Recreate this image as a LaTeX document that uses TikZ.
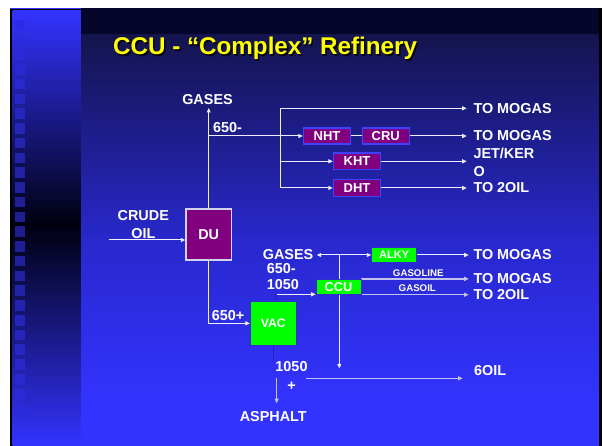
\documentclass[tikz,border=0pt]{standalone}
\usepackage{fontspec}
\setmainfont{Liberation Sans}
\usetikzlibrary{arrows.meta,calc}
\definecolor{slideblue}{RGB}{51,51,255}
\definecolor{topdark}{RGB}{6,6,42}
\definecolor{navy}{RGB}{20,20,78}
\definecolor{midblue}{RGB}{40,40,205}
\definecolor{stripdark}{RGB}{0,0,16}
\definecolor{boxpurple}{RGB}{128,0,128}
\definecolor{boxgreen}{RGB}{0,255,0}
\definecolor{boxedge}{RGB}{64,64,255}
\definecolor{greenedge}{RGB}{48,48,200}
\definecolor{duedge}{RGB}{210,210,235}
\definecolor{flow}{RGB}{238,238,255}
\definecolor{flowgray}{RGB}{195,195,240}
\definecolor{titleyellow}{RGB}{255,255,0}
\definecolor{sqtop}{RGB}{44,44,232}
\definecolor{sqmid}{RGB}{30,30,140}
\definecolor{faint}{RGB}{34,34,190}
\pgfdeclarelayer{bgl}
\pgfdeclarelayer{linel}
\pgfsetlayers{bgl,linel,main}
\begin{document}
\begin{tikzpicture}[x=1pt,y=-1pt,
 lbl/.style={text=white,font=\fontsize{14.4}{17.3}\selectfont\bfseries,inner sep=0pt},
 unit/.style={draw, inner sep=0pt, text=white, font=\fontsize{13}{15}\selectfont\bfseries},
 purplebox/.style={unit, line width=1.3pt, fill=boxpurple, draw=boxedge, minimum width=47pt, minimum height=16pt},
 greenbox/.style={unit, line width=0.8pt, fill=boxgreen, draw=greenedge},
 flowline/.style={draw=flow, line width=1pt},
 grayline/.style={draw=flowgray, line width=1.3pt},
 faintline/.style={draw=faint, line width=0.8pt},
 arr/.style={flowline, -{Triangle[length=4.5pt,width=4pt]}},
 small/.style={text=white, font=\fontsize{9.7}{11}\selectfont\bfseries, inner sep=0pt},
 titlefont/.style={font=\fontsize{24.2}{28}\selectfont\bfseries, inner sep=0pt, anchor=base west}
]
\useasboundingbox (0,0) rectangle (602,446);

% ---------- nodes ----------
\node[titlefont, text=black, opacity=0.8] (titleshadow) at (114.5,56.5) {CCU - “Complex” Refinery};
\node[titlefont, text=titleyellow] (title) at (113,55) {CCU - “Complex” Refinery};

\node[purplebox] (nht) at (327,136) {NHT};
\node[purplebox] (cru) at (385.8,136) {CRU};
\node[purplebox, minimum height=16.7pt] (kht) at (357,161.3) {KHT};
\node[purplebox, minimum height=16.7pt] (dht) at (357,188) {DHT};
\node[unit, line width=1.2pt, fill=boxpurple, draw=duedge, minimum width=45.5pt, minimum height=51pt,
      font=\fontsize{14.4}{17}\selectfont\bfseries] (du) at (208.7,234.5) {DU};
\node[greenbox, minimum width=45pt, minimum height=14.6pt, font=\fontsize{11}{13}\selectfont\bfseries] (alky) at (394.2,255) {ALKY};
\node[greenbox, minimum width=45pt, minimum height=15pt, font=\fontsize{12.8}{15}\selectfont\bfseries] (ccu) at (338.5,286.8) {CCU};
\node[greenbox, minimum width=46pt, minimum height=43.3pt, font=\fontsize{12.3}{15}\selectfont\bfseries] (vac) at (273.3,323.3) {VAC};

\node[lbl] (gases1) at (207.5,99.5) {GASES};
\node[lbl, anchor=west] (l650a) at (213,128) {650-};
\node[lbl, anchor=west] (tomogas1) at (473.3,108.3) {TO MOGAS};
\node[lbl, anchor=west] (tomogas2) at (473.3,135.3) {TO MOGAS};
\node[lbl, anchor=west, align=left, font=\fontsize{14.4}{18.3}\selectfont\bfseries] (jetker) at (473.3,162.3) {JET/KER\\O};
\node[lbl, anchor=west] (to2oil1) at (473.3,187.7) {TO 2OIL};
\node[lbl, align=center, font=\fontsize{14.4}{17.6}\selectfont\bfseries] (crude) at (143.3,224.8) {CRUDE\\OIL};
\node[lbl] (gases2) at (288,255) {GASES};
\node[lbl, anchor=west, align=left, font=\fontsize{14.4}{16.4}\selectfont\bfseries] (l650b) at (266.7,276.5) {650-\\1050};
\node[lbl] (l650p) at (228,315.3) {650+};
\node[lbl, anchor=west] (tomogas3) at (473.3,255) {TO MOGAS};
\node[lbl, anchor=west] (tomogas4) at (473.3,278.7) {TO MOGAS};
\node[lbl, anchor=west] (to2oil2) at (473.3,295) {TO 2OIL};
\node[small] (gasoline) at (418.3,273.3) {GASOLINE};
\node[small] (gasoil) at (417.3,288.3) {GASOIL};
\node[lbl, align=center, font=\fontsize{14.4}{18.7}\selectfont\bfseries] (l1050) at (291.5,375.7) {1050\\+};
\node[lbl, anchor=west] (sixoil) at (474,370.3) {6OIL};
\node[lbl] (asphalt) at (273.3,416.8) {ASPHALT};

% ---------- background ----------
\begin{pgfonlayer}{bgl}
\fill[white] (0,0) rectangle (602,446);
\fill[black] (10,8) rectangle (602,446);
\fill[slideblue] (10,8) rectangle (81,9);
\shade[top color=slideblue,bottom color=stripdark] (12.7,11) rectangle (81,225.5);
\shade[top color=stripdark,bottom color=slideblue] (12.7,225) rectangle (81,446);
\foreach \k in {0,...,26}{
  \pgfmathsetmacro\yy{19.8+14.75*\k}
  \pgfmathsetmacro\tt{min(100,abs(\yy+5-225)/205*100)}
  \fill[sqtop!\tt!sqmid] (15,\yy) rectangle (25,\yy+10.7);
}
\fill[topdark] (81,8) rectangle (598.7,35.5);
\shade[top color=navy,bottom color=midblue] (81,35) rectangle (598.7,240.5);
\shade[top color=midblue,bottom color=slideblue] (81,240) rectangle (598.7,400.5);
\fill[slideblue] (81,400) rectangle (598.7,446);
\end{pgfonlayer}

% ---------- connectors ----------
\begin{pgfonlayer}{linel}
\coordinate (gtip) at (208.7,108);
\draw[arr] (du.north) -- (gtip);
\coordinate (j650) at (208.7,136);
\draw[arr] (j650) -- (nht.west);
\draw[flowline] (nht.east) -- (cru.west);
\draw[arr, shorten >=6.6pt] (cru.east) -- (cru.east -| tomogas2.west);
\coordinate (b1) at (280,108.3);
\coordinate (b3) at (280,161.3);
\coordinate (b4) at (280,188);
\draw[flowline] (b1) -- (b4);
\draw[arr, shorten >=6.6pt] (b1) -- (tomogas1.west);
\draw[arr] (b3) -- (kht.west);
\draw[arr] (b4) -- (dht.west);
\draw[arr, shorten >=6.6pt] (kht.east) -- (kht.east -| jetker.west);
\draw[arr, shorten >=6.6pt] (dht.east) -- (dht.east -| to2oil1.west);
\coordinate (c0) at (108.7,240);
\draw[arr] (c0) -- (c0 -| du.west);
\draw[arr] (du.south) |- (vac.west);
\coordinate (v0) at (276,294.3);
\draw[arr] (v0) -- (v0 -| ccu.west);
\draw[faintline] (v0) -- (v0 |- vac.north);
\draw[faintline] (vac.south) -- (vac.south |- l1050.north);
\coordinate (jg) at (339.3,255);
\draw[arr, shorten >=3.3pt] (jg) -- (gases2.east);
\draw[arr] (jg) -- (alky.west);
\coordinate (vd) at (339.3,368.3);
\draw[arr] (jg) -- (vd);
\draw[arr, shorten >=4.6pt] (alky.east) -- (tomogas3.west);
\draw[arr, grayline, shorten >=4.6pt] (ccu.north east) -- (ccu.north east -| tomogas4.west);
\draw[arr, grayline, shorten >=4.6pt] (ccu.south east) -- (ccu.south east -| to2oil2.west);
\coordinate (s0) at (305.7,378.3);
\draw[arr, draw=flowgray, shorten >=11.3pt] (s0) -- (s0 -| sixoil.west);
\coordinate (a0) at (276.7,378.3);
\draw[arr, draw=flowgray, shorten >=8.3pt] (a0) -- (a0 |- asphalt.north);
\end{pgfonlayer}
\end{tikzpicture}
\end{document}
